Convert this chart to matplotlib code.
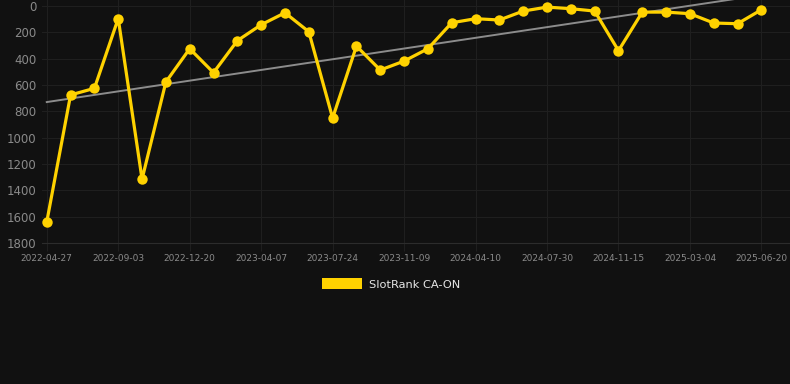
import numpy as np
import matplotlib
matplotlib.use("Agg")
import matplotlib.pyplot as plt
from matplotlib.patches import Patch

# 排名数据（数值越小越好，所以y轴反转）
ranks = [1640, 675, 625, 95, 1315, 577, 324, 506, 263, 142,
         51, 195, 851, 304, 486, 418, 324, 127, 96, 106,
         38, 8, 20, 38, 339, 46, 46, 58, 129, 134, 28]
tick_labels = ['2022-04-27', '2022-09-03', '2022-12-20', '2023-04-07',
               '2023-07-24', '2023-11-09', '2024-04-10', '2024-07-30',
               '2024-11-15', '2025-03-04', '2025-06-20']
series_name = 'SlotRank CA-ON'

BG = '#111111'
GRID = '#1f1f1f'
TXT = '#8a8a8a'
GOLD = '#FFD200'

x = np.arange(len(ranks))
fig = plt.figure(figsize=(7.9, 3.84), dpi=100, facecolor=BG)
ax = fig.add_axes([42 / 790, 1 - 243 / 384, 1 - 42 / 790, 243 / 384])
ax.set_facecolor(BG)

# 趋势线（线性回归）
k, b = np.polyfit(x, ranks, 1)
ax.plot(x, k * x + b, color='#8c8c8c', lw=1.4, zorder=2)

ax.plot(x, ranks, color=GOLD, lw=2.3, marker='o', markersize=7.5,
        markeredgewidth=0, zorder=3, clip_on=False)

ax.set_xlim(-0.2, len(ranks) - 1 + 1.2)
ax.set_ylim(1800, -46)
ax.set_yticks(range(0, 1801, 200))
ax.set_xticks(x[::3])
ax.set_xticklabels(tick_labels)

ax.grid(True, color=GRID, lw=0.8)
ax.set_axisbelow(True)
for s in ax.spines.values():
    s.set_visible(False)
ax.spines['bottom'].set_visible(True)
ax.spines['bottom'].set_color('#2c2c2c')
ax.spines['bottom'].set_linewidth(0.8)
ax.tick_params(axis='y', colors=TXT, labelsize=8.5, length=0, pad=4)
ax.tick_params(axis='x', colors=GRID, labelcolor=TXT, labelsize=6.5,
               length=6, width=0.8, pad=2)

# 图例放在下方
handle = Patch(facecolor=GOLD, edgecolor='none')
fig.legend([handle], [series_name], loc='center', bbox_to_anchor=(0.495, 1 - 284 / 384),
           frameon=False, labelcolor='#e6e6e6', fontsize=8.2,
           handlelength=3.5, handleheight=1.1, handletextpad=0.6)

fig.savefig('out.png', dpi=100, facecolor=BG)
